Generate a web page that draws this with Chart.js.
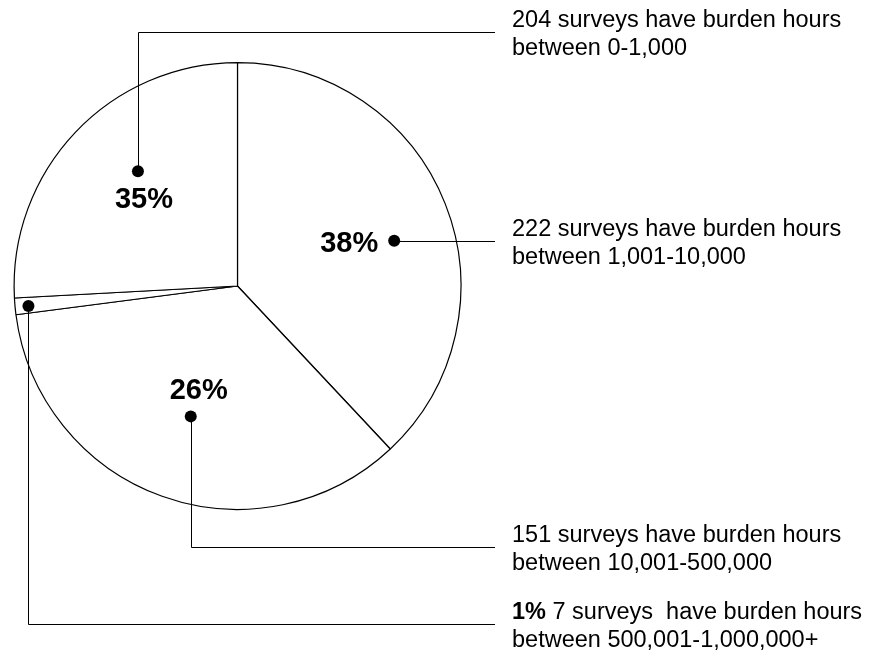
<!DOCTYPE html>
<html>
<head>
<meta charset="utf-8">
<script src="https://cdn.jsdelivr.net/npm/chart.js@4.4.1/dist/chart.umd.min.js"></script>
<style>
  html, body { margin: 0; padding: 0; background: #fff; }
  #wrap { width: 880px; height: 655px; position: relative; }
</style>
</head>
<body>
<div id="wrap"><canvas id="burden-chart"></canvas></div>
<script>
// ==================== DADOS ====================

// arc sizes as they are drawn in the reference, clockwise from 12 o'clock
const sliceValues = [222, 204, 7, 151];

// what is printed on / beside each of those arcs
const pctLabels = ['38%', '26%', '1%', '35%'];
const surveyCounts = [222, 151, 7, 204];
const hourRanges = ['1,001-10,000', '10,001-500,000', '500,001-1,000,000+', '0-1,000'];

// ==================== CALLOUTS ====================

// t = position along the arc, r = fraction of the radius
const calloutPos = [
  { t: 0.54, r: 0.73, label: 'left', leaderY: null },
  { t: 0.50, r: 0.62, label: 'above', leaderY: 546.5 },
  { t: 0.45, r: 0.94, label: 'text', leaderY: 623.5 },
  { t: 0.56, r: 0.68, label: 'below', leaderY: 31.5 }
];

const LEADER_END = 495;
const TEXT_X = 512;
const BODY_FONT = '23.5px "Liberation Sans", Arial, sans-serif';
const BOLD_BODY = 'bold 23.5px "Liberation Sans", Arial, sans-serif';
const PCT_FONT = 'bold 29px "Liberation Sans", Arial, sans-serif';

const calloutPlugin = {
  id: 'callouts',
  afterDatasetsDraw(chart) {
    const ctx = chart.ctx;
    const arcs = chart.getDatasetMeta(0).data;
    ctx.save();
    ctx.strokeStyle = '#000';
    ctx.fillStyle = '#000';
    ctx.lineWidth = 1;

    arcs.forEach((arc, i) => {
      const pos = calloutPos[i];
      const p = arc.getProps(['x', 'y', 'startAngle', 'endAngle', 'outerRadius'], true);
      const a = p.startAngle + (p.endAngle - p.startAngle) * pos.t;
      const dx = p.x + Math.cos(a) * p.outerRadius * pos.r;
      const dy = p.y + Math.sin(a) * p.outerRadius * pos.r;

      // leader line
      const lineY = pos.leaderY === null ? dy : pos.leaderY;
      ctx.beginPath();
      ctx.moveTo(Math.round(dx) + 0.5, dy);
      ctx.lineTo(Math.round(dx) + 0.5, Math.round(lineY) + 0.5);
      ctx.lineTo(LEADER_END, Math.round(lineY) + 0.5);
      ctx.stroke();

      // dot
      ctx.beginPath();
      ctx.arc(dx, dy, 6, 0, Math.PI * 2);
      ctx.fill();

      // percentage inside the pie
      ctx.font = PCT_FONT;
      ctx.textBaseline = 'alphabetic';
      if (pos.label === 'left') {
        ctx.textAlign = 'right';
        ctx.fillText(pctLabels[i], dx - 16, dy + 11);
      } else if (pos.label === 'above') {
        ctx.textAlign = 'center';
        ctx.fillText(pctLabels[i], dx + 8, dy - 17);
      } else if (pos.label === 'below') {
        ctx.textAlign = 'center';
        ctx.fillText(pctLabels[i], dx + 6, dy + 37);
      }

      // text block on the right
      const base1 = Math.round(lineY) - 5;
      const base2 = base1 + 28;
      ctx.textAlign = 'left';
      let x = TEXT_X;
      let first = surveyCounts[i] + ' surveys have burden hours';
      if (pos.label === 'text') {
        ctx.font = BOLD_BODY;
        ctx.fillText(pctLabels[i], x, base1);
        x += ctx.measureText(pctLabels[i] + ' ').width;
        first = surveyCounts[i] + ' surveys  have burden hours';
      }
      ctx.font = BODY_FONT;
      ctx.fillText(first, x, base1);
      ctx.fillText('between ' + hourRanges[i], TEXT_X, base2);
    });
    ctx.restore();
  }
};

// ==================== GRÁFICO ====================

const canvas = document.getElementById('burden-chart');
const ctx = canvas.getContext('2d');

const burdenChart = new Chart(ctx, {
  type: 'pie',
  data: {
    labels: pctLabels,
    datasets: [{
      data: sliceValues,
      backgroundColor: '#ffffff',
      borderColor: '#000000',
      borderWidth: 1.2
    }]
  },
  options: {
    responsive: true,
    maintainAspectRatio: false,
    animation: false,
    layout: {
      padding: { left: 13.5, top: 62, right: 418.5, bottom: 145 }
    },
    plugins: {
      legend: { display: false },
      tooltip: { enabled: false }
    }
  },
  plugins: [calloutPlugin]
});
</script>
</body>
</html>
